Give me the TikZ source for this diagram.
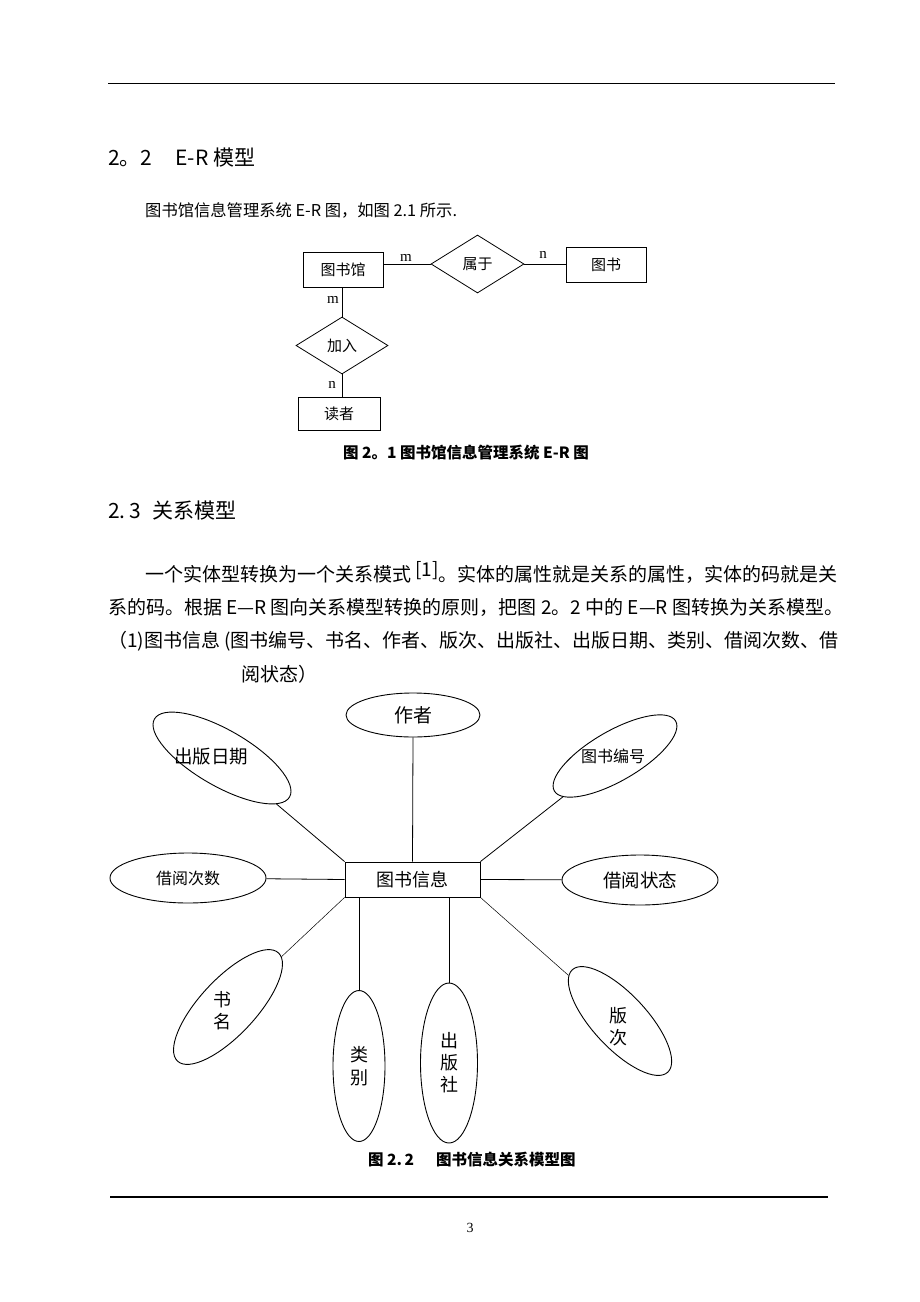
\documentclass[tikz,border=0pt]{standalone}
\usepackage{fontspec}
\setmainfont{Noto Sans CJK SC}
\newfontfamily\latinserif{Liberation Serif}
\usetikzlibrary{shapes.geometric}
\newcommand{\setfs}[1]{\fontsize{#1}{#1}\selectfont}
\tikzstyle{entity}=[rectangle, draw=black, line width=.8pt, inner sep=0pt]
\tikzstyle{rel}=[diamond, draw=black, line width=.8pt, inner sep=0pt]
\tikzstyle{attr}=[ellipse, draw=black, line width=.9pt, inner sep=0pt]
\tikzstyle{card}=[font=\latinserif\setfs{15}, inner sep=0pt]
\tikzstyle{body}=[anchor=base west, inner sep=0pt]

\begin{document}
\begin{tikzpicture}[x=1pt, y=-1pt]
    \useasboundingbox (0,0) rectangle (920,1302);
    \draw[line width=.8pt] (108,83) -- (835,83);
    \draw[line width=1.2pt] (110,1197) -- (828,1197);

    % text of the page
    \node[body, font=\setfs{21}] (h22) at (108,165) {2。2\hspace{23pt}E-R\hspace{5pt}模型};
    \node[body, font=\setfs{16.3}] (p1) at (145,216) {图书馆信息管理系统 E-R 图，如图 2.1 所示.};
    \node[body, font=\bfseries\setfs{15.5}] (cap1) at (343,458) {图 2。1\ 图书馆信息管理系统 E-R 图};
    \node[body, font=\setfs{21}] (h23) at (108,518) {2.\,3\hspace{12pt}关系模型};
    \node[body, font=\setfs{19}] (l1) at (145,581) {一个实体型转换为一个关系模式 \raisebox{5pt}{[1]}。实体的属性就是关系的属性，实体的码就是关};
    \node[body, font=\setfs{19}] (l2) at (108,614) {系的码。根据 E—R 图向关系模型转换的原则，把图 2。2 中的 E—R 图转换为关系模型。};
    \node[body, font=\setfs{19}] (l3) at (108,647) {（1)图书信息 (图书编号、书名、作者、版次、出版社、出版日期、类别、借阅次数、借};
    \node[body, font=\setfs{19}] (l4) at (241,681) {阅状态）};
    \node[body, font=\bfseries\setfs{15.5}] (cap2) at (368,1165) {图 2.\,2\hspace{22pt}图书信息关系模型图};
    \node[font=\latinserif\setfs{14}] (pg) at (470,1228) {3};

    % E-R diagram
    \node[entity, minimum width=80pt, minimum height=35pt, font=\setfs{15}] (tsg) at (343,269.5) {图书馆};
    \node[rel, minimum width=93pt, minimum height=58pt, font=\setfs{15}] (sy) at (477.5,264) {属于};
    \node[entity, minimum width=80pt, minimum height=35pt, font=\setfs{15}] (ts) at (606,264.5) {图书};
    \node[rel, minimum width=92pt, minimum height=57pt, font=\setfs{15}] (jr) at (342,345.5) {加入};
    \node[entity, minimum width=82pt, minimum height=33pt, font=\setfs{15}] (dz) at (339,413.5) {读者};

    \draw[line width=.8pt] (sy.west) -- (sy.west -| tsg.east);
    \draw[line width=.8pt] (sy.east) -- (sy.east -| ts.west);
    \draw[line width=.8pt] (tsg.south -| jr.north) -- (jr.north);
    \draw[line width=.8pt] (jr.south) -- (jr.south |- dz.north);

    \node[card] (m1) at (406,258) {m};
    \node[card] (n1) at (543,255) {n};
    \node[card] (m2) at (333,300) {m};
    \node[card] (n2) at (332,385) {n};

    % relation model
    \node[entity, minimum width=135pt, minimum height=35pt, font=\setfs{18}] (info) at (412.5,879.5) {图书信息};
    \node[attr, minimum width=134pt, minimum height=44pt, font=\setfs{19}] (zz) at (413,715) {作者};
    \node[attr, minimum width=156pt, minimum height=50pt, font=\setfs{16}] (jc) at (188,878) {借阅次数};
    \node[attr, minimum width=156pt, minimum height=50pt, font=\setfs{18.5}] (zt) at (640,880) {借阅状态};
    \node[attr, minimum width=52pt, minimum height=151pt, align=center, font=\setfs{18}] (lb) at (359,1066) {类\\[5pt]别};
    \node[attr, minimum width=57pt, minimum height=160pt, align=center, font=\setfs{18}] (cbs) at (449,1063) {出\\[4pt]版\\[4pt]社};

    \node[attr, minimum width=156pt, minimum height=56pt, rotate=-30] (rq) at (222,758) {};
    \node[attr, minimum width=140pt, minimum height=50pt, rotate=30] (bh) at (615,756) {};
    \node[attr, minimum width=148pt, minimum height=56pt, rotate=47] (sm) at (228,1007) {};
    \node[attr, minimum width=140pt, minimum height=54pt, rotate=-47] (bc) at (620,1021) {};
    \node[font=\setfs{18.5}] (rq-t) at (211,756) {出版日期};
    \node[font=\setfs{16}] (bh-t) at (613,756) {图书编号};
    \node[align=center, font=\setfs{18}] (sm-t) at (222,1011) {书\\[4pt]名};
    \node[align=center, font=\setfs{18}] (bc-t) at (618,1027) {版\\[4pt]次};

    \foreach \a/\b in {zz.south/info.north, rq/info.north west, bh/info.north east, jc/info.west, zt/info.east}
      \draw[line width=.8pt] (\a) -- (\b);
    \draw[line width=.5pt] (info.south west) -- (sm);
    \draw[line width=.5pt] (lb.north) -- (lb.north |- info.south);
    \draw[line width=.5pt] (cbs.north) -- (cbs.north |- info.south);
    \draw[line width=.5pt] (info.south east) -- (bc);
\end{tikzpicture}
\end{document}
